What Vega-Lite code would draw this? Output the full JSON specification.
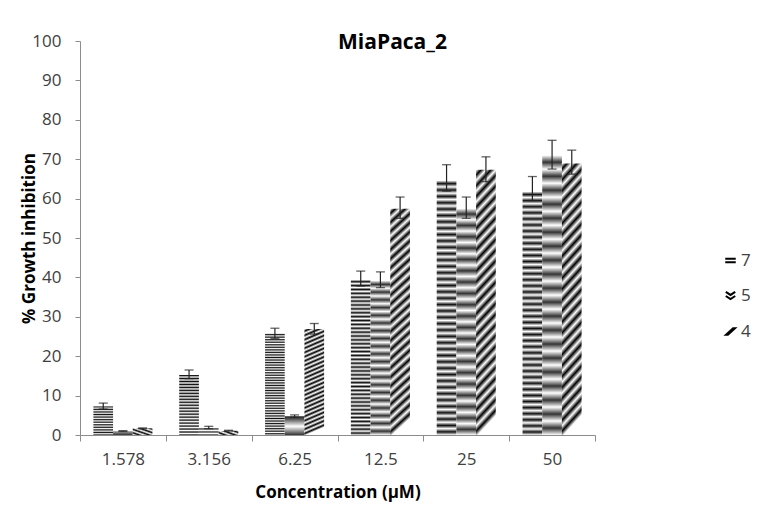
{
  "$schema": "https://vega.github.io/schema/vega-lite/v6.json",
  "width": 515,
  "height": 394,
  "autosize": {"type": "none"},
  "padding": {"left": 80, "top": 41, "right": 165, "bottom": 84},
  "background": "white",
  "config": {
    "view": {"stroke": null},
    "font": "Open Sans",
    "axis": {"labelFont": "Open Sans", "labelFontSize": 17, "labelColor": "#404040", "titleFont": "Open Sans", "titleFontSize": 17, "titleFontWeight": "bold", "titleColor": "#000", "domainColor": "#8c8c8c", "tickColor": "#8c8c8c", "grid": false},
    "axisY": {"tickSize": 5, "labelPadding": 14, "titlePadding": -7, "tickCount": 10, "labelOverlap": false},
    "axisX": {"tickSize": 6, "labelPadding": 10, "titlePadding": 17, "labelAngle": 0, "tickBand": "extent"}
  },
  "title": {"text": "MiaPaca_2", "fontSize": 21, "font": "Open Sans", "fontWeight": "bold", "color": "#000", "anchor": "middle", "dx": 55, "offset": -32, "baseline": "middle"},
  "data": {"values": [
    {"conc": "1.578", "series": "7", "value": 7.3, "lo": 6.6, "hi": 8.1},
    {"conc": "1.578", "series": "5", "value": 1.0, "lo": 0.9, "hi": 1.1},
    {"conc": "1.578", "series": "4", "value": 1.7, "lo": 1.6, "hi": 1.8},
    {"conc": "3.156", "series": "7", "value": 15.3, "lo": 14.3, "hi": 16.5},
    {"conc": "3.156", "series": "5", "value": 1.9, "lo": 1.6, "hi": 2.2},
    {"conc": "3.156", "series": "4", "value": 1.1, "lo": 1.0, "hi": 1.2},
    {"conc": "6.25", "series": "7", "value": 25.8, "lo": 24.5, "hi": 27.1},
    {"conc": "6.25", "series": "5", "value": 4.8, "lo": 4.5, "hi": 5.1},
    {"conc": "6.25", "series": "4", "value": 26.9, "lo": 25.6, "hi": 28.3},
    {"conc": "12.5", "series": "7", "value": 39.4, "lo": 37.8, "hi": 41.6},
    {"conc": "12.5", "series": "5", "value": 39.2, "lo": 37.4, "hi": 41.4},
    {"conc": "12.5", "series": "4", "value": 57.4, "lo": 55.0, "hi": 60.4},
    {"conc": "25", "series": "7", "value": 64.6, "lo": 61.9, "hi": 68.6},
    {"conc": "25", "series": "5", "value": 57.5, "lo": 55.0, "hi": 60.4},
    {"conc": "25", "series": "4", "value": 67.3, "lo": 64.3, "hi": 70.6},
    {"conc": "50", "series": "7", "value": 61.8, "lo": 59.5, "hi": 65.6},
    {"conc": "50", "series": "5", "value": 71.0, "lo": 67.5, "hi": 74.8},
    {"conc": "50", "series": "4", "value": 68.9, "lo": 66.2, "hi": 72.3}
  ]},
  "encoding": {
    "x": {"field": "conc", "type": "nominal", "sort": ["1.578", "3.156", "6.25", "12.5", "25", "50"], "scale": {"paddingInner": 0, "paddingOuter": 0}, "title": "Concentration (µM)"},
    "xOffset": {"field": "series", "type": "nominal", "sort": ["7", "5", "4"], "scale": {"domain": ["7", "5", "4"], "paddingInner": 0, "paddingOuter": 0.68}}
  },
  "layer": [
    {
      "transform": [{"filter": "datum.series === '7'"}],
      "mark": {"type": "bar", "fill": {"gradient": "linear", "x1": 0, "y1": 0, "x2": 0, "y2": 1, "stops": [{"offset":0,"color":"#fff"},{"offset":0.0125,"color":"#111"},{"offset":0.025,"color":"#fff"},{"offset":0.0375,"color":"#111"},{"offset":0.05,"color":"#fff"},{"offset":0.0625,"color":"#111"},{"offset":0.075,"color":"#fff"},{"offset":0.0875,"color":"#111"},{"offset":0.1,"color":"#fff"},{"offset":0.1125,"color":"#111"},{"offset":0.125,"color":"#fff"},{"offset":0.1375,"color":"#111"},{"offset":0.15,"color":"#fff"},{"offset":0.1625,"color":"#111"},{"offset":0.175,"color":"#fff"},{"offset":0.1875,"color":"#111"},{"offset":0.2,"color":"#fff"},{"offset":0.2125,"color":"#111"},{"offset":0.225,"color":"#fff"},{"offset":0.2375,"color":"#111"},{"offset":0.25,"color":"#fff"},{"offset":0.2625,"color":"#111"},{"offset":0.275,"color":"#fff"},{"offset":0.2875,"color":"#111"},{"offset":0.3,"color":"#fff"},{"offset":0.3125,"color":"#111"},{"offset":0.325,"color":"#fff"},{"offset":0.3375,"color":"#111"},{"offset":0.35,"color":"#fff"},{"offset":0.3625,"color":"#111"},{"offset":0.375,"color":"#fff"},{"offset":0.3875,"color":"#111"},{"offset":0.4,"color":"#fff"},{"offset":0.4125,"color":"#111"},{"offset":0.425,"color":"#fff"},{"offset":0.4375,"color":"#111"},{"offset":0.45,"color":"#fff"},{"offset":0.4625,"color":"#111"},{"offset":0.475,"color":"#fff"},{"offset":0.4875,"color":"#111"},{"offset":0.5,"color":"#fff"},{"offset":0.5125,"color":"#111"},{"offset":0.525,"color":"#fff"},{"offset":0.5375,"color":"#111"},{"offset":0.55,"color":"#fff"},{"offset":0.5625,"color":"#111"},{"offset":0.575,"color":"#fff"},{"offset":0.5875,"color":"#111"},{"offset":0.6,"color":"#fff"},{"offset":0.6125,"color":"#111"},{"offset":0.625,"color":"#fff"},{"offset":0.6375,"color":"#111"},{"offset":0.65,"color":"#fff"},{"offset":0.6625,"color":"#111"},{"offset":0.675,"color":"#fff"},{"offset":0.6875,"color":"#111"},{"offset":0.7,"color":"#fff"},{"offset":0.7125,"color":"#111"},{"offset":0.725,"color":"#fff"},{"offset":0.7375,"color":"#111"},{"offset":0.75,"color":"#fff"},{"offset":0.7625,"color":"#111"},{"offset":0.775,"color":"#fff"},{"offset":0.7875,"color":"#111"},{"offset":0.8,"color":"#fff"},{"offset":0.8125,"color":"#111"},{"offset":0.825,"color":"#fff"},{"offset":0.8375,"color":"#111"},{"offset":0.85,"color":"#fff"},{"offset":0.8625,"color":"#111"},{"offset":0.875,"color":"#fff"},{"offset":0.8875,"color":"#111"},{"offset":0.9,"color":"#fff"},{"offset":0.9125,"color":"#111"},{"offset":0.925,"color":"#fff"},{"offset":0.9375,"color":"#111"},{"offset":0.95,"color":"#fff"},{"offset":0.9625,"color":"#111"},{"offset":0.975,"color":"#fff"},{"offset":0.9875,"color":"#111"},{"offset":1,"color":"#fff"}]}},
      "encoding": {"y": {"field": "value", "type": "quantitative", "scale": {"domain": [0, 100], "nice": false}, "title": "% Growth inhibition"}}
    },
    {
      "transform": [{"filter": "datum.series === '5'"}],
      "mark": {"type": "bar", "fill": {"gradient": "linear", "x1": 0, "y1": 0, "x2": 0, "y2": 1, "stops": [{"offset":0,"color":"#fff"},{"offset":0.025,"color":"#333"},{"offset":0.05,"color":"#fff"},{"offset":0.075,"color":"#333"},{"offset":0.1,"color":"#fff"},{"offset":0.125,"color":"#333"},{"offset":0.15,"color":"#fff"},{"offset":0.175,"color":"#333"},{"offset":0.2,"color":"#fff"},{"offset":0.225,"color":"#333"},{"offset":0.25,"color":"#fff"},{"offset":0.275,"color":"#333"},{"offset":0.3,"color":"#fff"},{"offset":0.325,"color":"#333"},{"offset":0.35,"color":"#fff"},{"offset":0.375,"color":"#333"},{"offset":0.4,"color":"#fff"},{"offset":0.425,"color":"#333"},{"offset":0.45,"color":"#fff"},{"offset":0.475,"color":"#333"},{"offset":0.5,"color":"#fff"},{"offset":0.525,"color":"#333"},{"offset":0.55,"color":"#fff"},{"offset":0.575,"color":"#333"},{"offset":0.6,"color":"#fff"},{"offset":0.625,"color":"#333"},{"offset":0.65,"color":"#fff"},{"offset":0.675,"color":"#333"},{"offset":0.7,"color":"#fff"},{"offset":0.725,"color":"#333"},{"offset":0.75,"color":"#fff"},{"offset":0.775,"color":"#333"},{"offset":0.8,"color":"#fff"},{"offset":0.825,"color":"#333"},{"offset":0.85,"color":"#fff"},{"offset":0.875,"color":"#333"},{"offset":0.9,"color":"#fff"},{"offset":0.925,"color":"#333"},{"offset":0.95,"color":"#fff"},{"offset":0.975,"color":"#333"},{"offset":1,"color":"#fff"}]}},
      "encoding": {"y": {"field": "value", "type": "quantitative", "title": "% Growth inhibition"}}
    },
    {
      "transform": [{"filter": "datum.series === '4'"}],
      "mark": {"type": "bar", "fill": {"gradient": "linear", "x1": 0, "y1": 0, "x2": 0.08, "y2": 1, "stops": [{"offset":0,"color":"#fff"},{"offset":0.02,"color":"#000"},{"offset":0.04,"color":"#fff"},{"offset":0.06,"color":"#000"},{"offset":0.08,"color":"#fff"},{"offset":0.1,"color":"#000"},{"offset":0.12,"color":"#fff"},{"offset":0.14,"color":"#000"},{"offset":0.16,"color":"#fff"},{"offset":0.18,"color":"#000"},{"offset":0.2,"color":"#fff"},{"offset":0.22,"color":"#000"},{"offset":0.24,"color":"#fff"},{"offset":0.26,"color":"#000"},{"offset":0.28,"color":"#fff"},{"offset":0.3,"color":"#000"},{"offset":0.32,"color":"#fff"},{"offset":0.34,"color":"#000"},{"offset":0.36,"color":"#fff"},{"offset":0.38,"color":"#000"},{"offset":0.4,"color":"#fff"},{"offset":0.42,"color":"#000"},{"offset":0.44,"color":"#fff"},{"offset":0.46,"color":"#000"},{"offset":0.48,"color":"#fff"},{"offset":0.5,"color":"#000"},{"offset":0.52,"color":"#fff"},{"offset":0.54,"color":"#000"},{"offset":0.56,"color":"#fff"},{"offset":0.58,"color":"#000"},{"offset":0.6,"color":"#fff"},{"offset":0.62,"color":"#000"},{"offset":0.64,"color":"#fff"},{"offset":0.66,"color":"#000"},{"offset":0.68,"color":"#fff"},{"offset":0.7,"color":"#000"},{"offset":0.72,"color":"#fff"},{"offset":0.74,"color":"#000"},{"offset":0.76,"color":"#fff"},{"offset":0.78,"color":"#000"},{"offset":0.8,"color":"#fff"},{"offset":0.82,"color":"#000"},{"offset":0.84,"color":"#fff"},{"offset":0.86,"color":"#000"},{"offset":0.88,"color":"#fff"},{"offset":0.9,"color":"#000"},{"offset":0.92,"color":"#fff"},{"offset":0.94,"color":"#000"},{"offset":0.96,"color":"#fff"},{"offset":0.98,"color":"#000"},{"offset":1,"color":"#fff"}]}},
      "encoding": {"y": {"field": "value", "type": "quantitative", "title": "% Growth inhibition"}}
    },
    {
      "mark": {"type": "rule", "color": "#222", "strokeWidth": 1.2},
      "encoding": {"y": {"field": "lo", "type": "quantitative", "title": "% Growth inhibition"}, "y2": {"field": "hi"}}
    },
    {
      "mark": {"type": "tick", "color": "#222", "size": 9, "thickness": 1.3, "orient": "horizontal"},
      "encoding": {"y": {"field": "lo", "type": "quantitative", "title": "% Growth inhibition"}}
    },
    {
      "mark": {"type": "tick", "color": "#222", "size": 9, "thickness": 1.3, "orient": "horizontal"},
      "encoding": {"y": {"field": "hi", "type": "quantitative", "title": "% Growth inhibition"}}
    },
    {
      "mark": {"type": "point", "opacity": 0},
      "encoding": {
        "y": {"field": "value", "type": "quantitative", "title": "% Growth inhibition"},
        "shape": {"field": "series", "type": "nominal", "scale": {"domain": ["7", "5", "4"], "range": ["M-1,-0.35L1,-0.35M-1,0.35L1,0.35", "M-0.9,-0.8L0,-0.2L0.9,-0.8M-0.9,0L0,0.6L0.9,0", "M-0.85,0.6L-0.5,0.6L0.85,-0.6L0.5,-0.6Z"]},
          "legend": {"orient": "none", "legendX": 642, "legendY": 211, "title": null, "padding": 0, "symbolSize": 110, "symbolStrokeColor": "#000", "symbolFillColor": "transparent", "symbolStrokeWidth": 2, "labelFont": "Open Sans", "labelFontSize": 17, "labelColor": "#404040", "labelOffset": 2, "rowPadding": 17.5,
            "encode": {"symbols": {"update": {"opacity": {"value": 1}, "strokeOpacity": {"value": 1}}}}}}
      }
    }
  ]
}
